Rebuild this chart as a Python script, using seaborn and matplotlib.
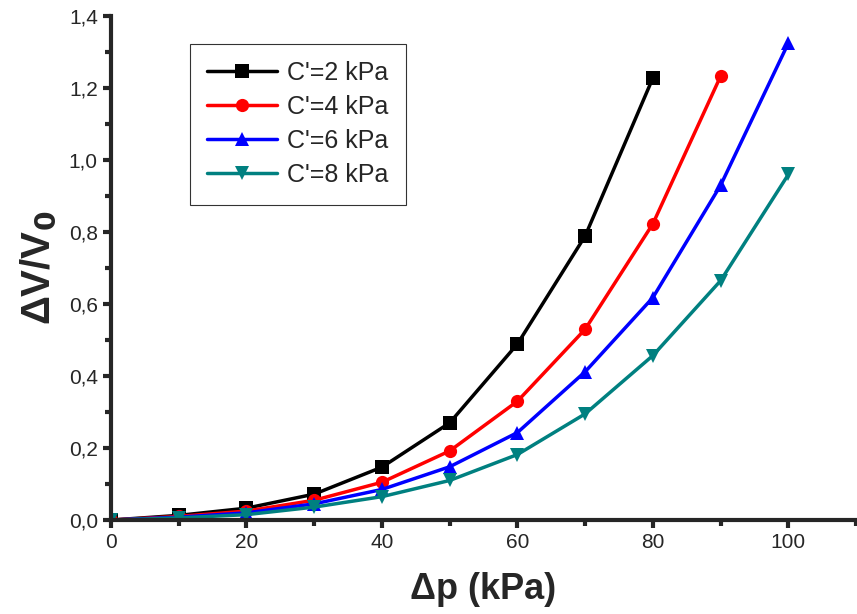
import pandas as pd
import numpy as np
import matplotlib.pyplot as plt
import seaborn as sns
from matplotlib.ticker import MultipleLocator, FuncFormatter

# readings from the reference figure
dp = [0, 10, 20, 30, 40, 50, 60, 70, 80, 90, 100]
c2 = [0, 0.013, 0.033, 0.072, 0.147, 0.270, 0.489, 0.789, 1.228]
c4 = [0, 0.010, 0.025, 0.055, 0.105, 0.192, 0.330, 0.530, 0.823, 1.233]
c6 = [0, 0.008, 0.020, 0.045, 0.085, 0.148, 0.243, 0.412, 0.618, 0.930, 1.325]
c8 = [0, 0.006, 0.015, 0.036, 0.065, 0.110, 0.182, 0.295, 0.457, 0.665, 0.960]
labels = ["C'=2 kPa", "C'=4 kPa", "C'=6 kPa", "C'=8 kPa"]
colors = ["black", "red", "blue", "#008080"]
markers = ["s", "o", "^", "v"]

rows = []
for lab, vals in zip(labels, [c2, c4, c6, c8]):
    for x, y in zip(dp, vals):
        rows.append({"dp": x, "dv": y, "series": lab})
df = pd.DataFrame(rows)

sns.set_style("ticks")
plt.rcParams['font.family'] = ['Liberation Sans', 'DejaVu Sans']

fig = plt.figure(figsize=(8.57, 6.14), dpi=100)
ax = fig.add_axes([0.1295, 0.153, 0.8695, 0.821])

sns.lineplot(data=df, x="dp", y="dv", hue="series", style="series",
             palette=dict(zip(labels, colors)), markers=dict(zip(labels, markers)),
             dashes=False, linewidth=2.5, markersize=9.5, markeredgewidth=0,
             ax=ax)

ax.set_xlim(0, 110)
ax.set_ylim(0, 1.4)
ax.xaxis.set_major_locator(MultipleLocator(20))
ax.xaxis.set_minor_locator(MultipleLocator(10))
ax.yaxis.set_major_locator(MultipleLocator(0.2))
ax.yaxis.set_minor_locator(MultipleLocator(0.1))
ax.yaxis.set_major_formatter(FuncFormatter(lambda v, p: f"{v:.1f}".replace(".", ",")))

sns.despine(ax=ax)
for s in ["left", "bottom"]:
    ax.spines[s].set_linewidth(3)
ax.tick_params(which="major", length=6, width=3, labelsize=15, direction="out")
ax.tick_params(which="minor", length=4, width=3, direction="out")

ax.set_xlabel("Δp (kPa)", fontsize=26, fontweight="bold", labelpad=14)
ax.set_ylabel("ΔV/V$_\\mathbf{0}$", fontsize=29, fontweight="bold", labelpad=8)

leg = ax.legend(loc="upper left", bbox_to_anchor=(0.106, 0.945), fontsize=18,
                frameon=True, fancybox=False, edgecolor="black",
                handlelength=2.8, borderpad=0.7, labelspacing=0.4,
                handletextpad=0.4, borderaxespad=0)
leg.get_frame().set_linewidth(0.8)

fig.savefig("out.png", dpi=100)
